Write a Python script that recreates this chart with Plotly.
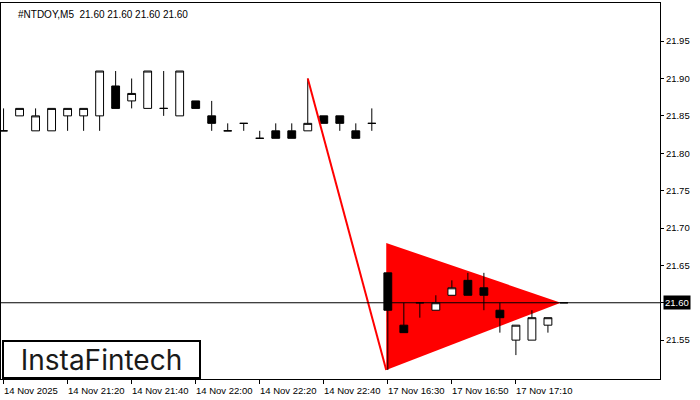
import plotly.graph_objects as go

# ---- data ----
symbol_title = "#NTDOY,M5  21.60 21.60 21.60 21.60"
opens  = [21.83, 21.85, 21.83, 21.83, 21.85, 21.85, 21.85, 21.89, 21.87, 21.86, 21.86, 21.85,
          21.87, 21.85, 21.83, 21.84, 21.82, 21.83, 21.83, 21.83, 21.85, 21.85, 21.83, 21.84,
          21.64, 21.57, 21.60, 21.59, 21.61, 21.63, 21.62, 21.59, 21.55, 21.55, 21.57, 21.60]
highs  = [21.86, 21.86, 21.86, 21.86, 21.86, 21.86, 21.91, 21.91, 21.90, 21.91, 21.91, 21.91,
          21.87, 21.87, 21.84, 21.84, 21.83, 21.84, 21.84, 21.90, 21.85, 21.85, 21.84, 21.86,
          21.64, 21.60, 21.60, 21.61, 21.63, 21.64, 21.64, 21.60, 21.57, 21.59, 21.58, 21.60]
lows   = [21.83, 21.85, 21.83, 21.83, 21.83, 21.83, 21.83, 21.86, 21.86, 21.86, 21.85, 21.85,
          21.86, 21.83, 21.83, 21.83, 21.82, 21.82, 21.82, 21.83, 21.84, 21.83, 21.82, 21.83,
          21.51, 21.56, 21.58, 21.59, 21.61, 21.61, 21.59, 21.56, 21.53, 21.55, 21.56, 21.60]
closes = [21.83, 21.86, 21.85, 21.86, 21.86, 21.86, 21.91, 21.86, 21.88, 21.91, 21.86, 21.91,
          21.86, 21.84, 21.83, 21.84, 21.82, 21.82, 21.82, 21.84, 21.84, 21.84, 21.82, 21.84,
          21.59, 21.56, 21.60, 21.60, 21.62, 21.61, 21.61, 21.58, 21.57, 21.58, 21.58, 21.60]

tick_index  = [0, 4, 8, 12, 16, 20, 24, 28, 32]
tick_labels = ["14 Nov 2025", "14 Nov 21:20", "14 Nov 21:40", "14 Nov 22:00", "14 Nov 22:20",
               "14 Nov 22:40", "17 Nov 16:30", "17 Nov 16:50", "17 Nov 17:10"]
price_ticks = [21.55, 21.60, 21.65, 21.70, 21.75, 21.80, 21.85, 21.90, 21.95]
current_price = 21.60

# bearish pennant pattern
pole_x = [19, 23.9]
pole_y = [21.90, 21.51]
pennant_x = [23.9, 23.9, 34.8]
pennant_y = [21.68, 21.51, 21.60]

logo_text = "InstaFintech"

x = list(range(len(opens)))

fig = go.Figure()
fig.add_trace(go.Candlestick(
    x=x, open=opens, high=highs, low=lows, close=closes,
    increasing=dict(line=dict(color="black", width=1), fillcolor="white"),
    decreasing=dict(line=dict(color="black", width=1), fillcolor="black"),
    whiskerwidth=0, showlegend=False, hoverinfo="skip"))
fig.add_trace(go.Scatter(x=pole_x, y=pole_y, mode="lines",
                         line=dict(color="#ff0000", width=2), showlegend=False, hoverinfo="skip"))

path = "M {},{} L {},{} L {},{} Z".format(pennant_x[0], pennant_y[0], pennant_x[1], pennant_y[1],
                                          pennant_x[2], pennant_y[2])
fig.add_shape(type="path", path=path, xref="x", yref="y", fillcolor="#ff0000",
              line=dict(width=0), layer="below")
fig.add_shape(type="line", xref="paper", x0=0, x1=1, yref="y", y0=current_price, y1=current_price,
              line=dict(color="black", width=1), layer="above")

font = "Liberation Sans"
ann = []
for i, lab in zip(tick_index, tick_labels):
    ann.append(dict(x=i, xref="x", y=0, yref="paper", text=lab, showarrow=False,
                    xanchor="left", yanchor="top", xshift=-2, yshift=-4,
                    font=dict(family=font, size=9.5, color="black")))
ann.append(dict(x=0, xref="paper", y=1, yref="paper", text=symbol_title, showarrow=False,
                xanchor="left", yanchor="top", xshift=15, yshift=-4,
                font=dict(family=font, size=10, color="black")))
ann.append(dict(x=1, xref="paper", y=current_price, yref="y", text="{:.2f}".format(current_price),
                showarrow=False, xanchor="left", yanchor="middle", xshift=3,
                bgcolor="black", borderpad=1, font=dict(family=font, size=9.5, color="white")))
ann.append(dict(x=0, xref="paper", y=0, yref="paper", text=logo_text, showarrow=False,
                xanchor="left", yanchor="bottom", xshift=1, yshift=0,
                width=193, height=33, bgcolor="white", bordercolor="black", borderwidth=2,
                borderpad=1, align="center",
                font=dict(family="Inter", size=28, color="#1a1a1a")))

fig.update_layout(
    width=700, height=400,
    margin=dict(l=1, r=40, t=3, b=21),
    paper_bgcolor="white", plot_bgcolor="white",
    annotations=ann,
    xaxis=dict(range=[-0.16, 41.0], rangeslider=dict(visible=False), showgrid=False,
               zeroline=False, showline=True, mirror=True, linecolor="black", linewidth=1,
               tickmode="array", tickvals=tick_index, showticklabels=False,
               ticks="outside", ticklen=4, tickcolor="black"),
    yaxis=dict(range=[21.498, 22.001], side="right", showgrid=False, zeroline=False,
               showline=True, mirror=True, linecolor="black", linewidth=1,
               tickmode="array", tickvals=price_ticks,
               ticktext=["{:.2f}".format(v) for v in price_ticks],
               ticks="outside", ticklen=3, tickcolor="black",
               tickfont=dict(family=font, size=9.5, color="black")),
)

fig.write_html("out.html", config={"displayModeBar": False},
               post_script="document.body.style.margin='0';")
